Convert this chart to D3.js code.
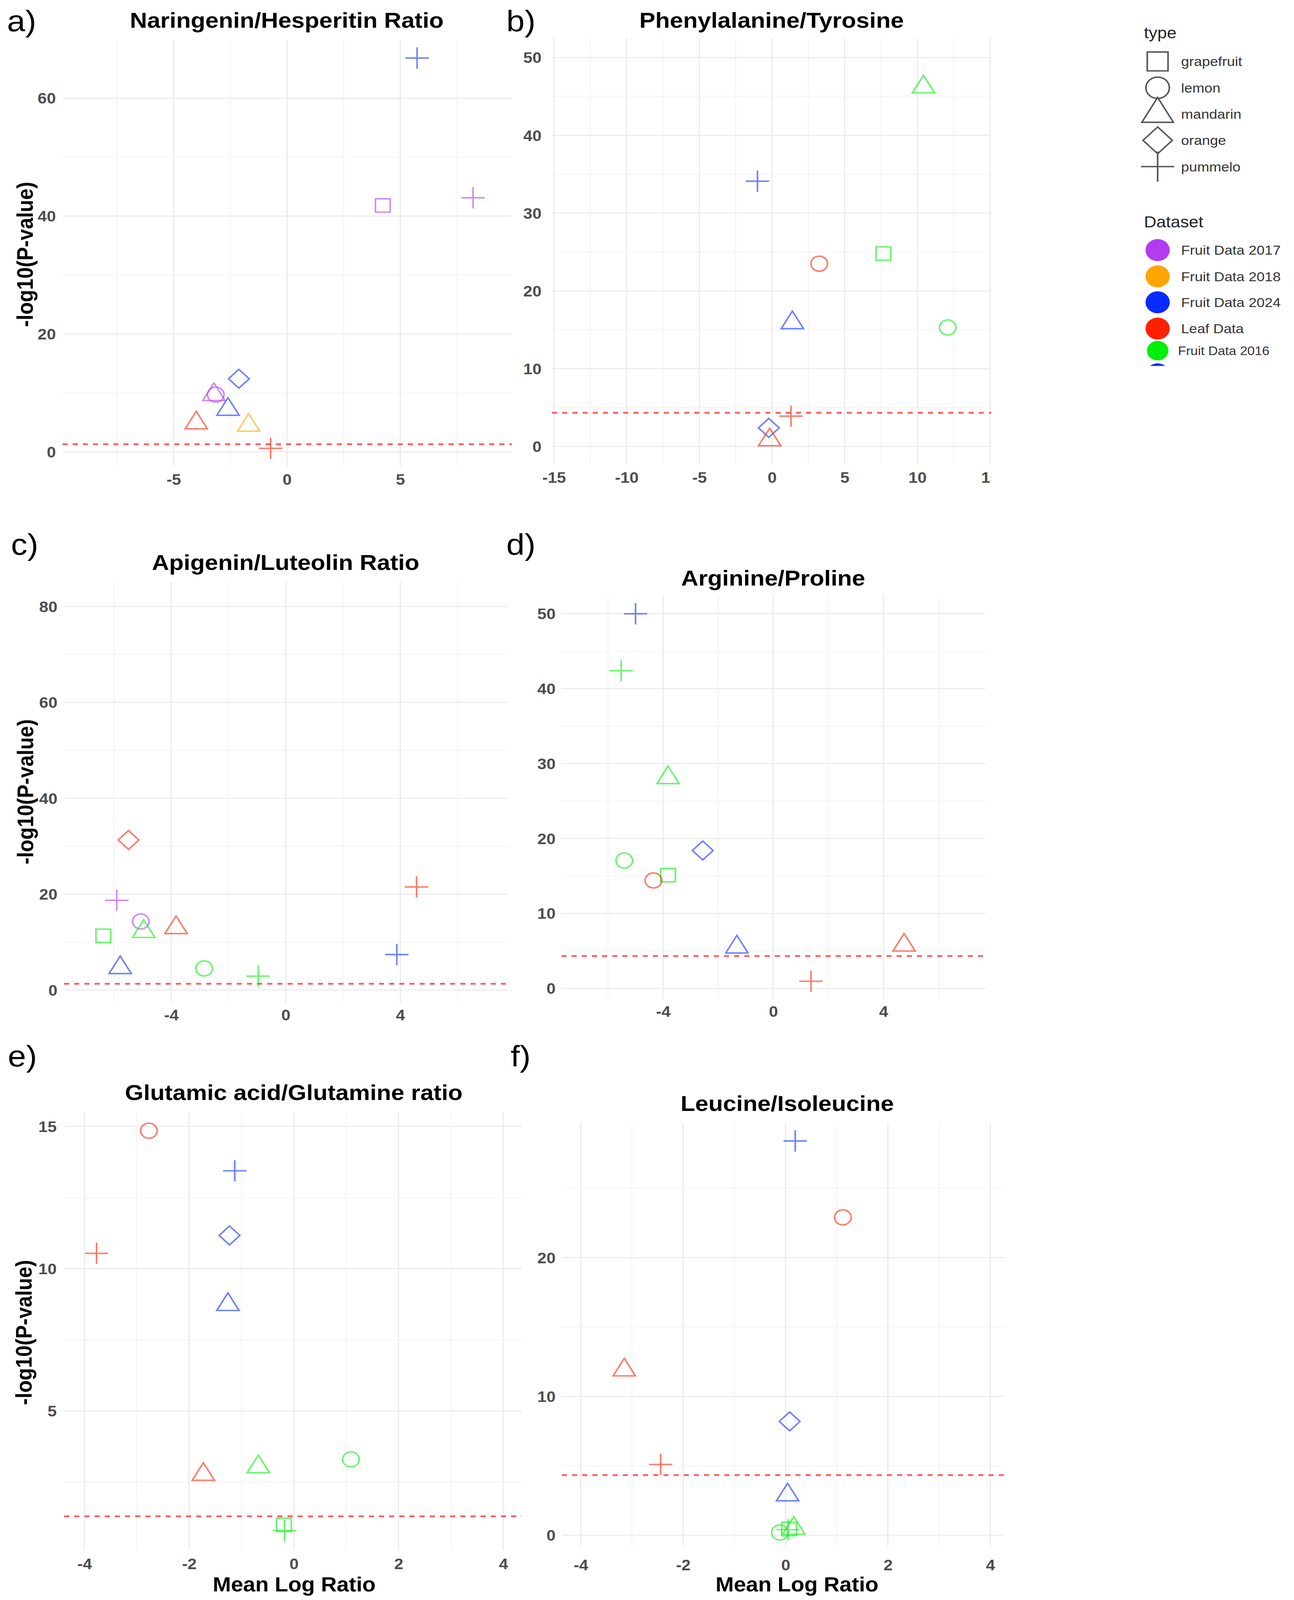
<!DOCTYPE html>
<html>
<head>
<meta charset="utf-8">
<script src="https://cdn.jsdelivr.net/npm/d3@7/dist/d3.min.js"></script>
<style>
  html, body { margin: 0; padding: 0; background: #ffffff; overflow: hidden; }
  svg { display: block; }
</style>
</head>
<body>
<script>
// ---------------- DATA ----------------
// each row: [type, dataset, mean log ratio, -log10(p)]
const datasets = ["Fruit Data 2017", "Fruit Data 2018", "Fruit Data 2024", "Leaf Data", "Fruit Data 2016"];
const datasetColors = ["#B33BF0", "#FFA500", "#0A2BFF", "#FF2200", "#00F00A"];
const types = ["grapefruit", "lemon", "mandarin", "orange", "pummelo"];

const naringeninHesperitin = [
  ["pummelo", "Fruit Data 2024", 5.74, 66.8],
  ["grapefruit", "Fruit Data 2017", 4.23, 41.8],
  ["pummelo", "Fruit Data 2017", 8.21, 43.1],
  ["orange", "Fruit Data 2024", -2.12, 12.4],
  ["mandarin", "Fruit Data 2017", -3.22, 9.7],
  ["lemon", "Fruit Data 2017", -3.14, 9.7],
  ["mandarin", "Fruit Data 2024", -2.60, 7.2],
  ["mandarin", "Leaf Data", -4.00, 4.9],
  ["mandarin", "Fruit Data 2018", -1.69, 4.5],
  ["pummelo", "Leaf Data", -0.72, 0.6]
];
const phenylalanineTyrosine = [
  ["mandarin", "Fruit Data 2016", 10.42, 46.2],
  ["pummelo", "Fruit Data 2024", -1.00, 34.1],
  ["grapefruit", "Fruit Data 2016", 7.66, 24.8],
  ["lemon", "Leaf Data", 3.25, 23.5],
  ["mandarin", "Fruit Data 2024", 1.40, 15.9],
  ["lemon", "Fruit Data 2016", 12.09, 15.3],
  ["pummelo", "Leaf Data", 1.31, 3.9],
  ["orange", "Fruit Data 2024", -0.22, 2.4],
  ["mandarin", "Leaf Data", -0.16, 0.85]
];
const apigeninLuteolin = [
  ["orange", "Leaf Data", -5.49, 31.3],
  ["pummelo", "Fruit Data 2017", -5.90, 18.7],
  ["pummelo", "Leaf Data", 4.57, 21.5],
  ["lemon", "Fruit Data 2017", -5.06, 14.3],
  ["mandarin", "Fruit Data 2016", -4.96, 12.2],
  ["mandarin", "Leaf Data", -3.83, 13.0],
  ["grapefruit", "Fruit Data 2016", -6.37, 11.3],
  ["mandarin", "Fruit Data 2024", -5.78, 4.65],
  ["lemon", "Fruit Data 2016", -2.85, 4.5],
  ["pummelo", "Fruit Data 2016", -0.96, 2.9],
  ["pummelo", "Fruit Data 2024", 3.88, 7.4]
];
const arginineProline = [
  ["pummelo", "Fruit Data 2024", -5.00, 50.0],
  ["pummelo", "Fruit Data 2016", -5.52, 42.4],
  ["mandarin", "Fruit Data 2016", -3.82, 28.1],
  ["orange", "Fruit Data 2024", -2.56, 18.4],
  ["lemon", "Fruit Data 2016", -5.41, 17.05],
  ["grapefruit", "Fruit Data 2016", -3.82, 15.1],
  ["lemon", "Leaf Data", -4.35, 14.4],
  ["mandarin", "Fruit Data 2024", -1.32, 5.5],
  ["mandarin", "Leaf Data", 4.75, 5.75],
  ["pummelo", "Leaf Data", 1.37, 0.94]
];
const glutamicGlutamine = [
  ["lemon", "Leaf Data", -2.77, 14.85],
  ["pummelo", "Fruit Data 2024", -1.13, 13.44],
  ["orange", "Fruit Data 2024", -1.23, 11.17],
  ["pummelo", "Leaf Data", -3.77, 10.54],
  ["mandarin", "Fruit Data 2024", -1.26, 8.74],
  ["lemon", "Fruit Data 2016", 1.09, 3.30],
  ["mandarin", "Fruit Data 2016", -0.68, 3.04],
  ["mandarin", "Leaf Data", -1.73, 2.77],
  ["grapefruit", "Fruit Data 2016", -0.19, 1.0],
  ["pummelo", "Fruit Data 2016", -0.18, 0.80]
];
const leucineIsoleucine = [
  ["pummelo", "Fruit Data 2024", 0.19, 28.4],
  ["lemon", "Leaf Data", 1.12, 22.9],
  ["mandarin", "Leaf Data", -3.15, 11.9],
  ["orange", "Fruit Data 2024", 0.08, 8.2],
  ["pummelo", "Leaf Data", -2.44, 5.1],
  ["mandarin", "Fruit Data 2024", 0.04, 2.9],
  ["lemon", "Fruit Data 2016", -0.11, 0.2],
  ["mandarin", "Fruit Data 2016", 0.16, 0.5],
  ["grapefruit", "Fruit Data 2016", 0.07, 0.45],
  ["pummelo", "Fruit Data 2016", 0.05, 0.4]
];

const panelTitles = ["Naringenin/Hesperitin Ratio", "Phenylalanine/Tyrosine", "Apigenin/Luteolin Ratio",
                     "Arginine/Proline", "Glutamic acid/Glutamine ratio", "Leucine/Isoleucine"];
const panelLetters = ["a)", "b)", "c)", "d)", "e)", "f)"];
const thresholds = [1.3, 4.33, 1.3, 4.3, 1.3, 4.33];
const xTicksA = [-5, 0, 5], xTicksB = [-15, -10, -5, 0, 5, 10, 15], xTicksCD = [-4, 0, 4], xTicksEF = [-4, -2, 0, 2, 4];
const yTicksA = [0, 20, 40, 60], yTicksB = [0, 10, 20, 30, 40, 50], yTicksC = [0, 20, 40, 60, 80],
      yTicksD = [0, 10, 20, 30, 40, 50], yTicksE = [5, 10, 15], yTicksF = [0, 10, 20];
const yAxisTitle = "-log10(P-value)";
const xAxisTitle = "Mean Log Ratio";

// ---------------- LAYOUT ----------------
// Design space is 3312 x 4504; it is fitted to the actual viewport so nothing is cut off.
const W = 3312, H = 4504;
const viewW = window.innerWidth || W;
const viewH = Math.min(window.innerHeight || H, H);
const FONT = "'Liberation Sans', Arial, Helvetica, sans-serif";
const svg = d3.select("body").append("svg").attr("width", viewW).attr("height", viewH)
  .attr("viewBox", `0 0 ${W} ${H}`).attr("preserveAspectRatio", "none");
svg.append("rect").attr("width", W).attr("height", H).attr("fill", "#fff");
const defs = svg.append("defs");

const colorScale = d3.scaleOrdinal().domain(datasets).range(datasetColors);

const panels = [
  { data: naringeninHesperitin, box: [160, 1310, 112, 1312], xd: [-9.9, 9.92], yd: [-2.41, 69.9],
    xt: xTicksA, yt: yTicksA, letter: [18, 88], title: [734, 78], yLabX: 143, xLabY: 1350, yTitle: [63, 716], clipR: 1310 },
  { data: phenylalanineTyrosine, box: [1413, 2537, 107, 1308], xd: [-15.13, 15.08], yd: [-2.33, 52.5],
    xt: xTicksB, yt: yTicksB, letter: [1296, 88], title: [1975, 78], yLabX: 1386, xLabY: 1344, clipR: 2537 },
  { data: apigeninLuteolin, box: [164, 1300, 1637, 2822], xd: [-7.74, 7.76], yd: [-2.6, 85.2],
    xt: xTicksCD, yt: yTicksC, letter: [28, 1562], title: [731, 1604], yLabX: 147, xLabY: 2857, yTitle: [64, 2229] },
  { data: arginineProline, box: [1437, 2522, 1675, 2812], xd: [-7.69, 7.70], yd: [-1.42, 52.5],
    xt: xTicksCD, yt: yTicksD, letter: [1296, 1562], title: [1979, 1648], yLabX: 1422, xLabY: 2847 },
  { data: glutamicGlutamine, box: [164, 1335, 3130, 4363], xd: [-4.39, 4.35], yd: [0.12, 15.51],
    xt: xTicksEF, yt: yTicksE, letter: [20, 3002], title: [752, 3097], yLabX: 145, xLabY: 4402, yTitle: [60, 3751], xTitle: [753, 4460] },
  { data: leucineIsoleucine, box: [1438, 2570, 3161, 4353], xd: [-4.37, 4.27], yd: [-0.8, 29.7],
    xt: xTicksEF, yt: yTicksF, letter: [1307, 3002], title: [2015, 3127], yLabX: 1422, xLabY: 4405, xTitle: [2040, 4460] }
];

// R-like point shapes (pch 0,1,2,5,3), r = base radius
function shapePath(type, r) {
  if (type === "grapefruit") { const s = 0.8862 * r; return `M${-s},${-s}H${s}V${s}H${-s}Z`; }
  if (type === "lemon") { return `M${r},0A${r},${r} 0 1,1 ${-r},0A${r},${r} 0 1,1 ${r},0Z`; }
  if (type === "mandarin") {
    const a = 1.5551 * r, h = 1.3468 * r, b = 0.7776 * r;
    return `M0,${-a}L${h},${b}L${-h},${b}Z`;
  }
  if (type === "orange") { const d = 1.2533 * r; return `M0,${-d}L${d},0L0,${d}L${-d},0Z`; }
  const p = 1.4142 * r; return `M${-p},0H${p}M0,${-p}V${p}`;
}

function midpoints(ticks, domain) {
  const step = ticks[1] - ticks[0];
  const out = [];
  for (let v = ticks[0] - step / 2; v <= domain[1]; v += step) {
    if (v >= domain[0] && v <= domain[1]) out.push(v);
  }
  return out;
}

panels.forEach((p, i) => {
  const [L, R, T, B] = p.box;
  const x = d3.scaleLinear().domain(p.xd).range([L, R]);
  const y = d3.scaleLinear().domain(p.yd).range([B, T]);
  const g = svg.append("g");
  if (p.clipR) {
    defs.append("clipPath").attr("id", "clip" + i).append("rect")
      .attr("x", 0).attr("y", 0).attr("width", p.clipR).attr("height", H);
    g.attr("clip-path", `url(#clip${i})`);
  }

  // minor grid
  const xMinor = midpoints(p.xt, p.xd), yMinor = midpoints(p.yt, p.yd);
  g.append("g").selectAll("line").data(xMinor).join("line")
    .attr("x1", d => x(d)).attr("x2", d => x(d)).attr("y1", T).attr("y2", B)
    .attr("stroke", "#f2f2f2").attr("stroke-width", 2);
  g.append("g").selectAll("line").data(yMinor).join("line")
    .attr("x1", L).attr("x2", R).attr("y1", d => y(d)).attr("y2", d => y(d))
    .attr("stroke", "#f2f2f2").attr("stroke-width", 2);
  // major grid
  g.append("g").selectAll("line").data(p.xt.filter(v => v >= p.xd[0] && v <= p.xd[1])).join("line")
    .attr("x1", d => x(d)).attr("x2", d => x(d)).attr("y1", T).attr("y2", B)
    .attr("stroke", "#ebebeb").attr("stroke-width", 3);
  g.append("g").selectAll("line").data(p.yt).join("line")
    .attr("x1", L).attr("x2", R).attr("y1", d => y(d)).attr("y2", d => y(d))
    .attr("stroke", "#ebebeb").attr("stroke-width", 3);

  // threshold
  g.append("line").attr("x1", L).attr("x2", R)
    .attr("y1", y(thresholds[i])).attr("y2", y(thresholds[i]))
    .attr("stroke", "#ff4a4a").attr("stroke-width", 5).attr("stroke-dasharray", "13,13").attr("opacity", 0.9);

  // points
  g.append("g").selectAll("path").data(p.data).join("path")
    .attr("transform", d => `translate(${x(d[2])},${y(d[3])})`)
    .attr("d", d => shapePath(d[0], 21.2))
    .attr("fill", "none")
    .attr("stroke", d => colorScale(d[1]))
    .attr("stroke-opacity", 0.6)
    .attr("stroke-width", 4);

  // y axis (labels only)
  const ya = g.append("g").attr("transform", `translate(${p.yLabX},0)`)
    .call(d3.axisLeft(y).tickValues(p.yt).tickSize(0).tickPadding(0).tickFormat(d3.format("d")));
  ya.select(".domain").remove();
  ya.selectAll("text").attr("x", 0).attr("dy", "0.36em")
    .attr("font-family", FONT).attr("font-size", 42).attr("font-weight", "bold").attr("fill", "#4d4d4d");

  // x axis (labels only)
  const xa = g.append("g").attr("transform", `translate(0,${p.xLabY})`)
    .call(d3.axisBottom(x).tickValues(p.xt).tickSize(0).tickPadding(0).tickFormat(d3.format("d")));
  xa.select(".domain").remove();
  xa.selectAll("text").attr("y", 0).attr("dy", "0.36em")
    .attr("font-family", FONT).attr("font-size", 42).attr("font-weight", "bold").attr("fill", "#4d4d4d")
    .text(d => d < 0 ? "-" + Math.abs(d) : String(d));

  // title
  svg.append("text").attr("x", p.title[0]).attr("y", p.title[1])
    .attr("text-anchor", "middle").attr("font-family", FONT).attr("font-size", 61)
    .attr("font-weight", "bold").attr("fill", "#000").text(panelTitles[i]);
  // letter
  svg.append("text").attr("x", p.letter[0]).attr("y", p.letter[1])
    .attr("font-family", FONT).attr("font-size", 84).attr("fill", "#000").text(panelLetters[i]);
  // y title
  if (p.yTitle) {
    svg.append("text").attr("transform", `translate(${p.yTitle[0]},${p.yTitle[1]}) rotate(-90)`)
      .attr("text-anchor", "middle").attr("dy", "0.36em")
      .attr("font-family", FONT).attr("font-size", 57).attr("font-weight", "bold").attr("fill", "#000")
      .text(yAxisTitle);
  }
  if (p.xTitle) {
    svg.append("text").attr("x", p.xTitle[0]).attr("y", p.xTitle[1])
      .attr("text-anchor", "middle").attr("dy", "0.36em")
      .attr("font-family", FONT).attr("font-size", 56).attr("font-weight", "bold").attr("fill", "#000")
      .text(xAxisTitle);
  }
});

// ---------------- LEGEND ----------------
const lg = svg.append("g");
lg.append("text").attr("x", 2928).attr("y", 108).attr("font-family", FONT).attr("font-size", 44)
  .attr("fill", "#222").text("type");
const typeRow = d3.scalePoint().domain(types).range([173, 469]);
types.forEach(t => {
  lg.append("path").attr("transform", `translate(2963,${typeRow(t)})`)
    .attr("d", shapePath(t, 30)).attr("fill", "none").attr("stroke", "#555").attr("stroke-width", 4);
  lg.append("text").attr("x", 3023).attr("y", typeRow(t)).attr("dy", "0.36em")
    .attr("font-family", FONT).attr("font-size", 37).attr("fill", "#333").text(t);
});

lg.append("text").attr("x", 2928).attr("y", 640).attr("font-family", FONT).attr("font-size", 44)
  .attr("fill", "#222").text("Dataset");
const dsRow = d3.scaleOrdinal().domain(datasets).range([704, 778, 851, 925, 987]);
datasets.forEach((dname, k) => {
  const last = k === datasets.length - 1;
  lg.append("circle").attr("cx", 2963).attr("cy", dsRow(dname)).attr("r", last ? 27.5 : 31)
    .attr("fill", colorScale(dname));
  lg.append("text").attr("x", last ? 3015 : 3023).attr("y", dsRow(dname)).attr("dy", "0.36em")
    .attr("font-family", FONT).attr("font-size", last ? 34 : 37).attr("fill", "#333").text(dname);
});
// a further (cropped) legend key peeking below
defs.append("clipPath").attr("id", "legclip").append("rect")
  .attr("x", 2900).attr("y", 1000).attr("width", 200).attr("height", 30);
lg.append("circle").attr("cx", 2963).attr("cy", 1054).attr("r", 31)
  .attr("fill", colorScale("Fruit Data 2024")).attr("clip-path", "url(#legclip)");
</script>
</body>
</html>
